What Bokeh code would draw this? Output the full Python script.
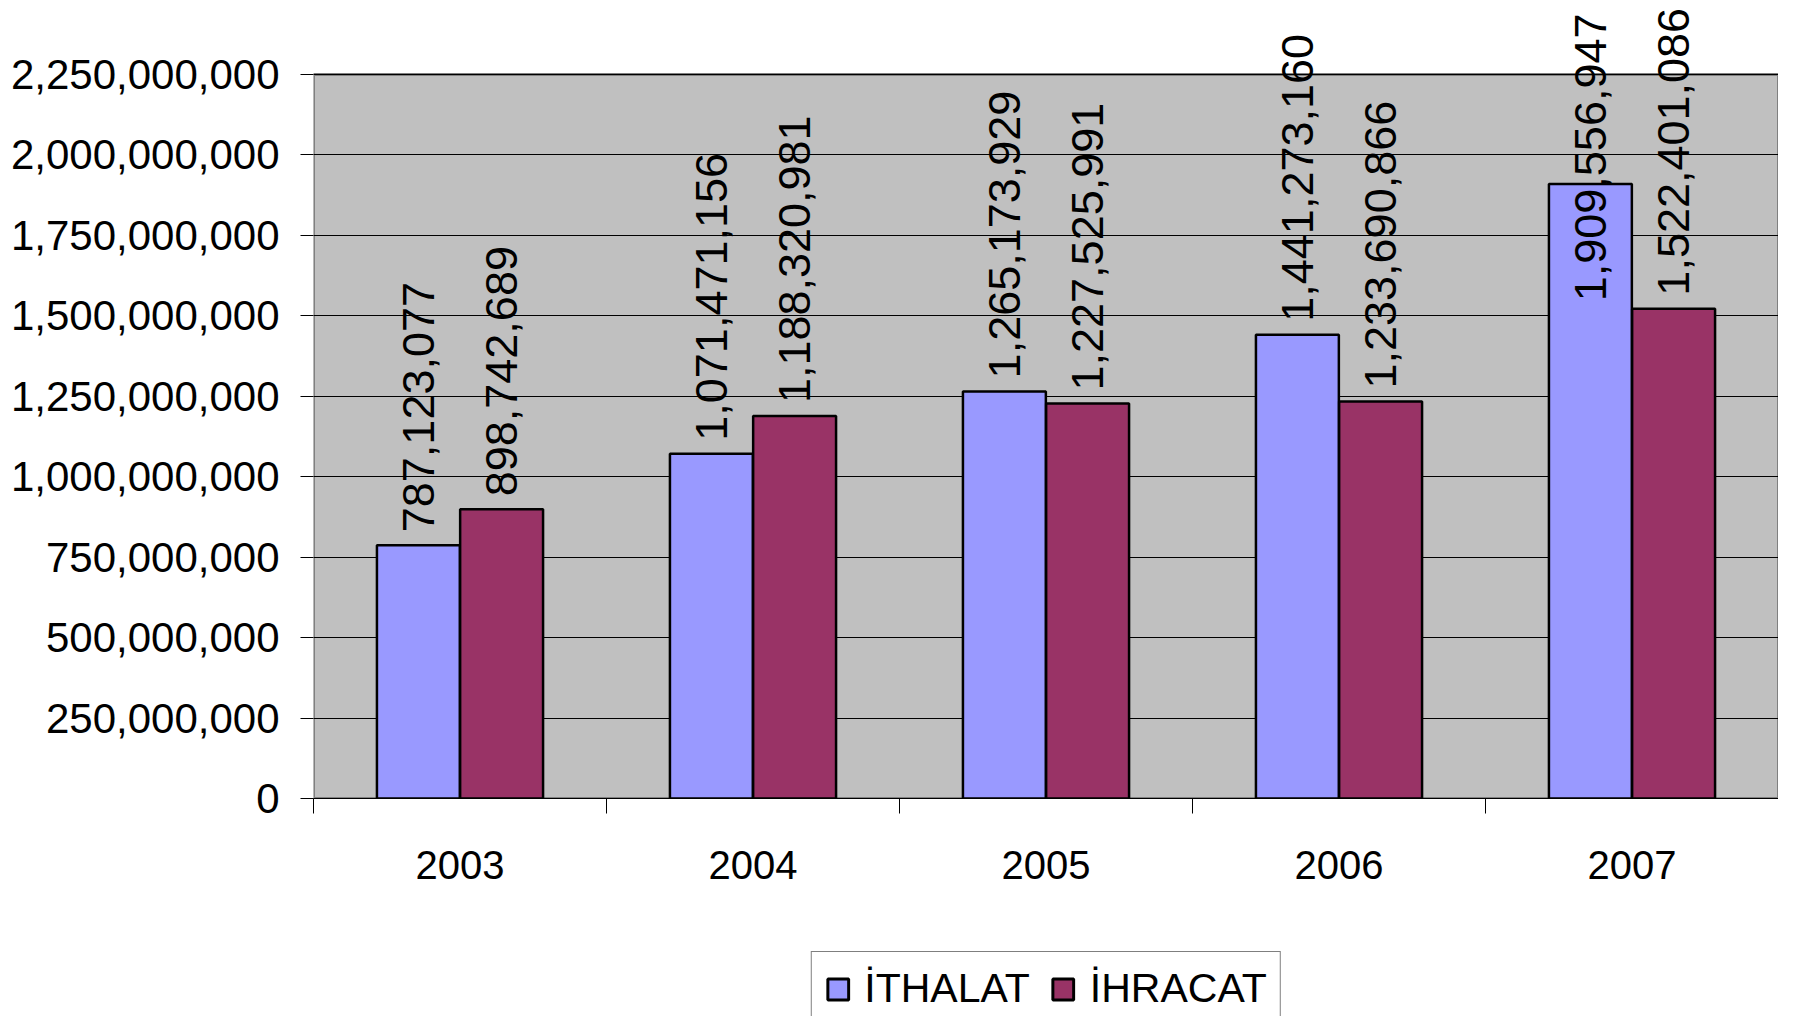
import math
import pandas as pd
from bokeh.plotting import figure
from bokeh.layouts import column
from bokeh.models import (ColumnDataSource, FixedTicker, NumeralTickFormatter,
                          Legend, LegendItem, Range1d)
from bokeh.core.properties import value
from bokeh.embed import file_html
from bokeh.resources import INLINE

# ---------------- data ----------------
years = ["2003", "2004", "2005", "2006", "2007"]
ithalat = [787123077, 1071471156, 1265173929, 1441273160, 1909556947]
ihracat = [898742689, 1188320981, 1227525991, 1233690866, 1522401086]
series_names = ["İTHALAT", "İHRACAT"]
y_ticks = [0, 250000000, 500000000, 750000000, 1000000000, 1250000000,
           1500000000, 1750000000, 2000000000, 2250000000]

# ---------------- style ----------------
FONT = "Liberation Sans"
BLUE = "#9999FF"
MAROON = "#993366"
FRAME_H = 798
PX_PER_UNIT = 724 / 2.25e9
Y_END = FRAME_H / PX_PER_UNIT
BAR_W = 0.283
OFFSET = 0.142
W = 1778
MAIN_H = 951
LEG_H = 65

centers = [i + 0.5 for i in range(len(years))]

p = figure(width=W, height=MAIN_H, output_backend="svg", toolbar_location=None,
           tools="", x_range=Range1d(0, len(years)), y_range=Range1d(0, Y_END),
           min_border_left=313, min_border_right=0, min_border_top=0,
           min_border_bottom=MAIN_H - FRAME_H)
p.outline_line_color = None
p.background_fill_color = "white"
p.border_fill_color = "white"

# plot-area background (gray box up to top tick)
p.quad(left=[0], right=[len(years)], bottom=[0], top=[max(y_ticks)],
       fill_color="#C0C0C0", line_color="#808080", line_width=3, level="image")

# bars
src_a = ColumnDataSource(dict(x=[c - OFFSET for c in centers], top=ithalat))
src_b = ColumnDataSource(dict(x=[c + OFFSET for c in centers], top=ihracat))
p.vbar(x="x", top="top", width=BAR_W, source=src_a, fill_color=BLUE,
       line_color="black", line_width=2.5)
p.vbar(x="x", top="top", width=BAR_W, source=src_b, fill_color=MAROON,
       line_color="black", line_width=2.5)

# data labels (rotated); a label that would run off the top is pushed down
LABEL_PX = 45
gap = 13 / PX_PER_UNIT
top_limit = Y_END - 13 / PX_PER_UNIT
rows = []
for xs, vals in ((src_a.data["x"], ithalat), (src_b.data["x"], ihracat)):
    for x, v in zip(xs, vals):
        t = f"{v:,}"
        n_d = sum(ch.isdigit() for ch in t)
        n_c = t.count(",")
        est_len = (n_d * 0.556 + n_c * 0.278) * LABEL_PX / PX_PER_UNIT
        if v + gap + est_len > top_limit + 20 / PX_PER_UNIT:
            rows.append(dict(x=x, y=top_limit, text=t, align="right"))
        else:
            rows.append(dict(x=x, y=v + gap, text=t, align="left"))
df = pd.DataFrame(rows)
for al in ("left", "right"):
    sub = df[df["align"] == al]
    if len(sub):
        p.text(x=sub["x"].tolist(), y=sub["y"].tolist(), text=sub["text"].tolist(),
               angle=math.pi / 2, text_align=al, text_baseline="middle",
               text_font=value(FONT), text_font_size=f"{LABEL_PX}px",
               text_color="black")

# y axis
yax = p.yaxis[0]
yax.ticker = FixedTicker(ticks=y_ticks)
yax.formatter = NumeralTickFormatter(format="0,0")
yax.axis_line_color = None
yax.major_tick_in = 0
yax.major_tick_out = 13
yax.major_tick_line_color = "black"
yax.minor_tick_in = 0
yax.minor_tick_out = 0
yax.major_label_text_font = FONT
yax.major_label_text_font_size = "42px"
yax.major_label_text_color = "black"
yax.major_label_standoff = 21

# x axis: ticks at category boundaries, labels at centres
xax = p.xaxis[0]
xax.ticker = FixedTicker(ticks=centers, minor_ticks=list(range(len(years) + 1)))
xax.major_label_overrides = {c: y for c, y in zip(centers, years)}
xax.axis_line_color = "black"
xax.axis_line_width = 1
xax.major_tick_in = 0
xax.major_tick_out = 0
xax.minor_tick_in = 0
xax.minor_tick_out = 15
xax.minor_tick_line_color = "black"
xax.major_label_text_font = FONT
xax.major_label_text_font_size = "40px"
xax.major_label_text_color = "black"
xax.major_label_standoff = 37

# grid
p.xgrid.grid_line_color = None
p.ygrid.ticker = FixedTicker(ticks=y_ticks)
p.ygrid.grid_line_color = "black"
p.ygrid.grid_line_width = 1

# ---------------- legend strip ----------------
lg = figure(width=W, height=LEG_H, output_backend="svg", toolbar_location=None,
            tools="", x_axis_location=None, y_axis_location=None,
            x_range=Range1d(0, 1), y_range=Range1d(0, 1),
            min_border_left=313, min_border_right=0, min_border_top=0,
            min_border_bottom=0)
lg.outline_line_color = None
lg.xgrid.grid_line_color = None
lg.ygrid.grid_line_color = None
# zero-height placeholder bars: only their legend swatches are seen
swatch = dict(x=[0], top=[0], bottom=[0])
la = lg.vbar(x="x", top="top", bottom="bottom", width=0,
             source=ColumnDataSource(swatch),
             fill_color=BLUE, line_color="black", line_width=3)
lb = lg.vbar(x="x", top="top", bottom="bottom", width=0,
             source=ColumnDataSource(swatch),
             fill_color=MAROON, line_color="black", line_width=3)
legend = Legend(items=[LegendItem(label=series_names[0], renderers=[la]),
                       LegendItem(label=series_names[1], renderers=[lb])],
                orientation="horizontal", location="top")
legend.label_text_font = FONT
legend.label_text_font_size = "41px"
legend.label_text_color = "black"
legend.glyph_width = 26
legend.glyph_height = 26
legend.label_standoff = 14
legend.spacing = 20
legend.padding = 13
legend.margin = 0
legend.border_line_color = "black"
legend.border_line_width = 1
legend.background_fill_color = "white"
legend.background_fill_alpha = 1
lg.add_layout(legend, "center")

layout = column(p, lg, spacing=0)
open("out.html", "w").write(file_html(layout, INLINE))
